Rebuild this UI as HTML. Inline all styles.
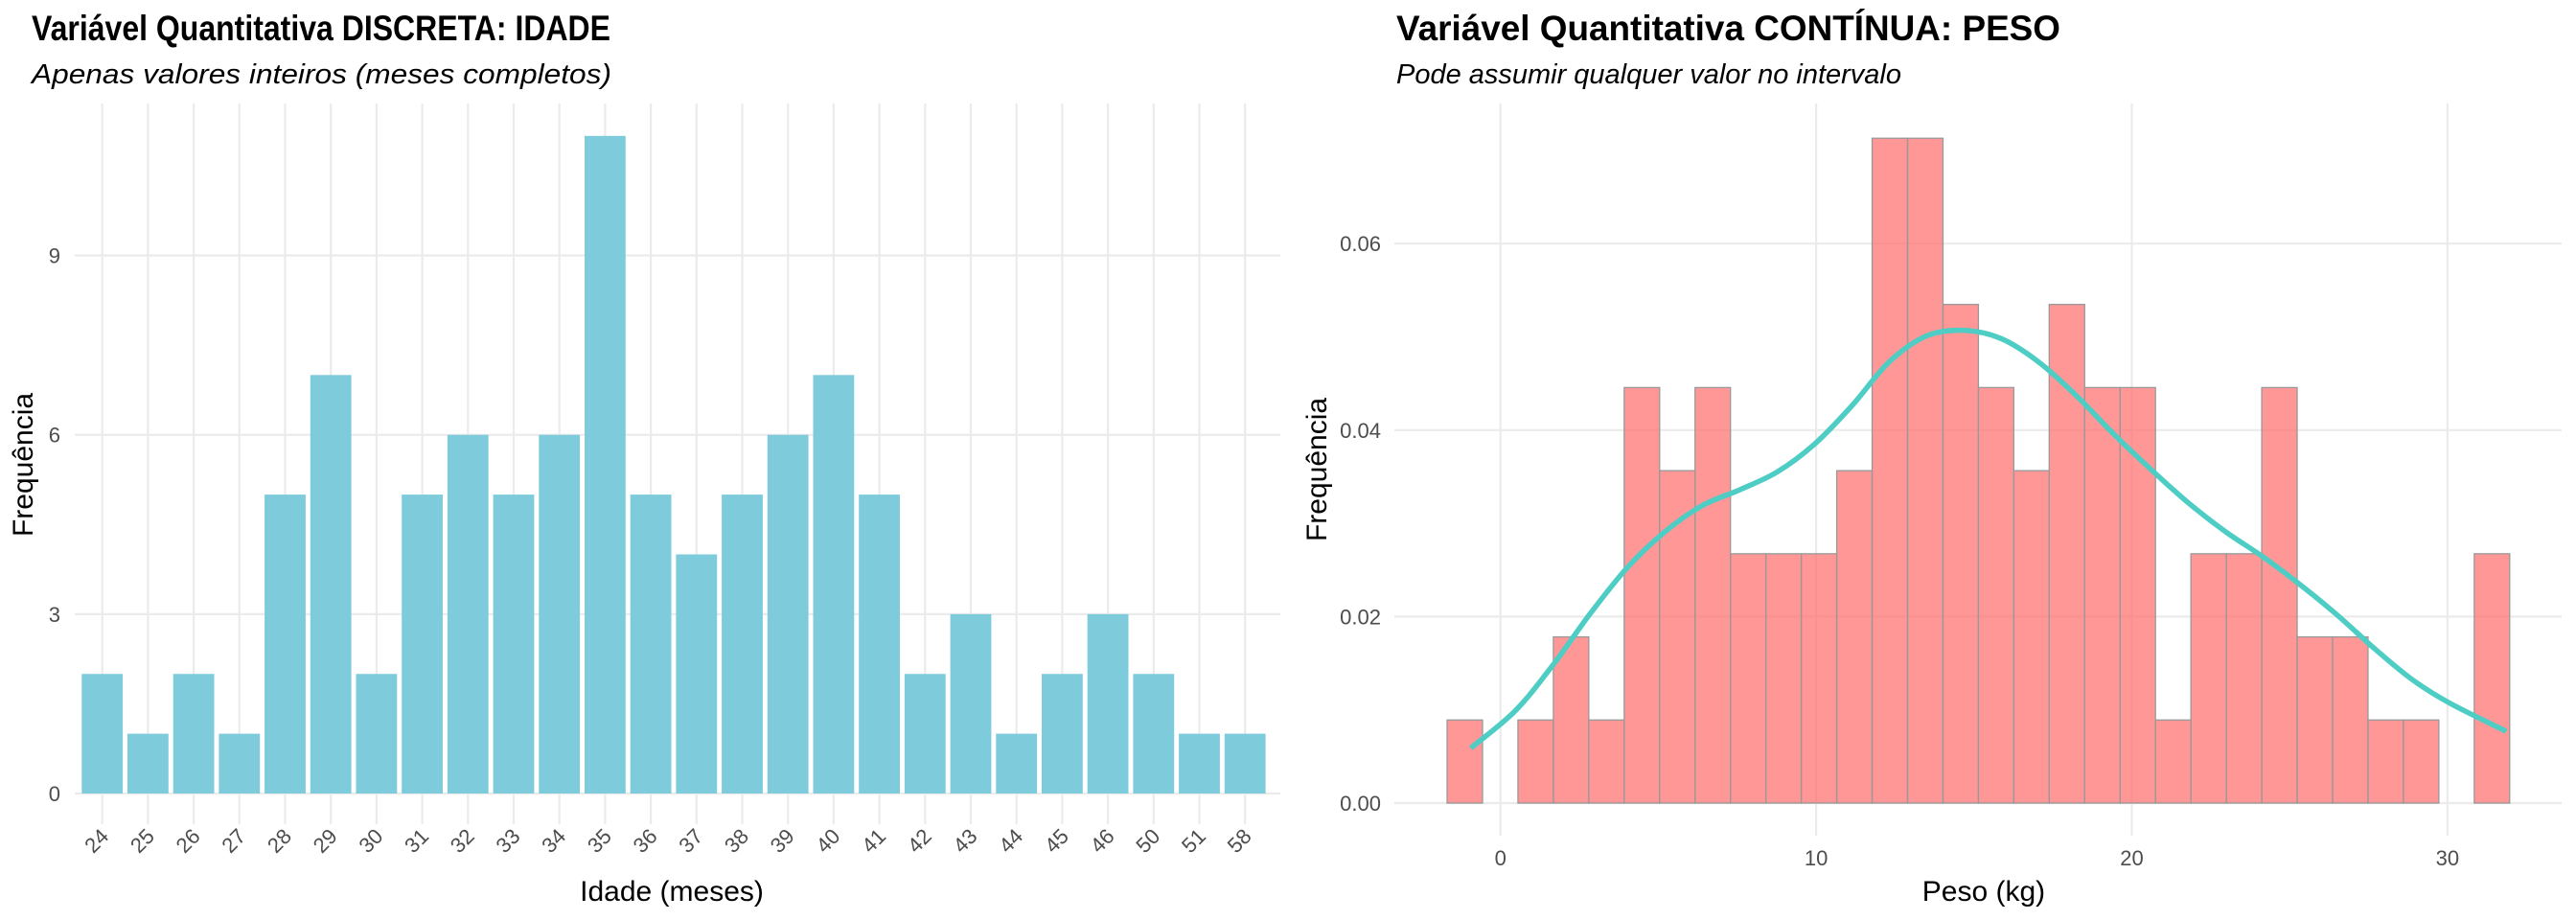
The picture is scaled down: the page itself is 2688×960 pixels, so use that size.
<!DOCTYPE html>
<html><head><meta charset="utf-8"><style>
html,body{margin:0;padding:0;background:#fff;}
svg{display:block;font-family:"Liberation Sans",sans-serif;}
</style></head><body>
<svg id="chart" width="2688" height="960" viewBox="0 0 2688 960" xmlns="http://www.w3.org/2000/svg">
  <g id="left">
    <text x="33" y="42" font-size="37" font-weight="bold" fill="#000" textLength="604" lengthAdjust="spacingAndGlyphs">Variável Quantitativa DISCRETA: IDADE</text>
    <text x="33" y="87" font-size="29" font-style="italic" fill="#000" textLength="605" lengthAdjust="spacingAndGlyphs">Apenas valores inteiros (meses completos)</text>
    <g id="lgrid"></g>
    <g id="lbars"></g>
    <g id="lticks"></g>
    <text x="701" y="940" font-size="30" text-anchor="middle" fill="#000">Idade (meses)</text>
    <text transform="translate(34,485) rotate(-90)" font-size="30" text-anchor="middle" fill="#000">Frequência</text>
  </g>
  <g id="right">
    <text x="1457" y="42" font-size="37" font-weight="bold" fill="#000" textLength="693" lengthAdjust="spacingAndGlyphs">Variável Quantitativa CONTÍNUA: PESO</text>
    <text x="1457" y="87" font-size="29" font-style="italic" fill="#000" textLength="527" lengthAdjust="spacingAndGlyphs">Pode assumir qualquer valor no intervalo</text>
    <g id="rgrid"></g>
    <g id="rbars"></g>
    <path id="dens" fill="none" stroke="#4ecdc4" stroke-width="5.5" stroke-linecap="butt"></path>
    <g id="rticks"></g>
    <text x="2070" y="940" font-size="30" text-anchor="middle" fill="#000">Peso (kg)</text>
    <text transform="translate(1384,490) rotate(-90)" font-size="30" text-anchor="middle" fill="#000">Frequência</text>
  </g>
</svg>
<script>
// ---- Left chart data ----
const ageCategories = ["24","25","26","27","28","29","30","31","32","33","34","35","36","37","38","39","40","41","42","43","44","45","46","50","51","58"];
const ageCounts = [2,1,2,1,5,7,2,5,6,5,6,11,5,4,5,6,7,5,2,3,1,2,3,2,1,1];
const ageYTicks = [0,3,6,9];
// ---- Right chart data ----
const weightBinStart = -1.69;
const weightBinWidth = 1.122;
const weightBinCounts = [1,0,1,2,1,5,4,5,3,3,3,4,8,8,6,5,4,6,5,5,1,3,3,5,2,2,1,1,0,3];
const weightTotal = 100;
const densityX = [-0.94,0.47,1.66,2.84,4.03,5.21,6.39,7.58,8.76,9.95,11.13,12.31,13.5,14.68,15.87,17.05,18.24,19.42,20.6,21.79,22.97,24.16,25.34,26.53,27.71,28.9,30.08,31.86];
const densityY = [0.0059,0.0099,0.0148,0.0203,0.0253,0.0291,0.0319,0.0336,0.0355,0.0385,0.0426,0.0473,0.0501,0.0507,0.0498,0.0473,0.0437,0.0396,0.0358,0.0322,0.0291,0.0264,0.0234,0.0201,0.0165,0.0132,0.0107,0.0077];
const weightXTicks = [0,10,20,30];
const weightYTicks = [0,0.02,0.04,0.06];

const NS="http://www.w3.org/2000/svg";
function mk(tag, parent, attrs){const e=document.createElementNS(NS,tag);for(const k in attrs)e.setAttribute(k,attrs[k]);parent.appendChild(e);return e;}
const GRID="#ebebeb", TICK="#4d4d4d";

// Left scales
const L={x0:106.7, step:47.7, y0:828, unit:62.38, top:108, bottom:860, left:78, right:1336};
const lx=i=>L.x0+i*L.step;
const ly=v=>L.y0-v*L.unit;
const lgrid=document.getElementById('lgrid'), lbars=document.getElementById('lbars'), lticks=document.getElementById('lticks');
ageYTicks.forEach(t=>{
  const g=mk('line',lgrid,{x1:L.left,x2:L.right,y1:ly(t),y2:ly(t),stroke:GRID,'stroke-width':2.2});
  
  
  const tx=mk('text',lticks,{x:63,y:ly(t)+8,'font-size':22,'text-anchor':'end',fill:TICK});
  tx.textContent=t;
  
  
});
ageCategories.forEach((c,i)=>{
  const g=mk('line',lgrid,{x1:lx(i),x2:lx(i),y1:L.top,y2:L.bottom,stroke:GRID,'stroke-width':2.2});
  
  
  const bw=42.8;
  const b=mk('rect',lbars,{x:lx(i)-bw/2,y:ly(ageCounts[i]),width:bw,height:ly(0)-ly(ageCounts[i]),fill:'#7ecbdc'});
  
  
  const tx=mk('text',lticks,{x:0,y:0,'font-size':22,'text-anchor':'end',fill:TICK,transform:`translate(${lx(i)+8},${874}) rotate(-45)`});
  tx.textContent=c;
  
  
});

// Right scales
const R={x0:1565.7, perKg:32.94, y0:838, perUnit:9730, top:108, bottom:872, left:1455, right:2673};
const rx=v=>R.x0+v*R.perKg;
const ry=v=>R.y0-v*R.perUnit;
const rgrid=document.getElementById('rgrid'), rbars=document.getElementById('rbars'), rticks=document.getElementById('rticks');
weightYTicks.forEach(t=>{
  const g=mk('line',rgrid,{x1:R.left,x2:R.right,y1:ry(t),y2:ry(t),stroke:GRID,'stroke-width':2.2});
  
  
  const tx=mk('text',rticks,{x:1441,y:ry(t)+8,'font-size':22,'text-anchor':'end',fill:TICK});
  tx.textContent=t.toFixed(2);
  
  
});
weightXTicks.forEach(t=>{
  const g=mk('line',rgrid,{x1:rx(t),x2:rx(t),y1:R.top,y2:R.bottom,stroke:GRID,'stroke-width':2.2});
  
  
  const tx=mk('text',rticks,{x:rx(t),y:903,'font-size':22,'text-anchor':'middle',fill:TICK});
  tx.textContent=t;
  
  
});
weightBinCounts.forEach((c,i)=>{
  const a=weightBinStart+i*weightBinWidth;
  const d=c/(weightTotal*weightBinWidth);
  const b=mk('rect',rbars,{x:rx(a),y:ry(d),width:rx(a+weightBinWidth)-rx(a),height:ry(0)-ry(d),fill:'#ff6b6b','fill-opacity':0.7,stroke:'#999','stroke-width':1.3});
  
  
});
// density via Catmull-Rom
const pts=densityX.map((x,i)=>[rx(x),ry(densityY[i])]);
let dstr=`M${pts[0][0]},${pts[0][1]}`;
for(let i=0;i<pts.length-1;i++){
  const p0=pts[Math.max(0,i-1)],p1=pts[i],p2=pts[i+1],p3=pts[Math.min(pts.length-1,i+2)];
  const c1=[p1[0]+(p2[0]-p0[0])/6,p1[1]+(p2[1]-p0[1])/6];
  const c2=[p2[0]-(p3[0]-p1[0])/6,p2[1]-(p3[1]-p1[1])/6];
  dstr+=` C${c1[0]},${c1[1]} ${c2[0]},${c2[1]} ${p2[0]},${p2[1]}`;
}
document.getElementById('dens').setAttribute('d',dstr);
</script>
</body></html>
